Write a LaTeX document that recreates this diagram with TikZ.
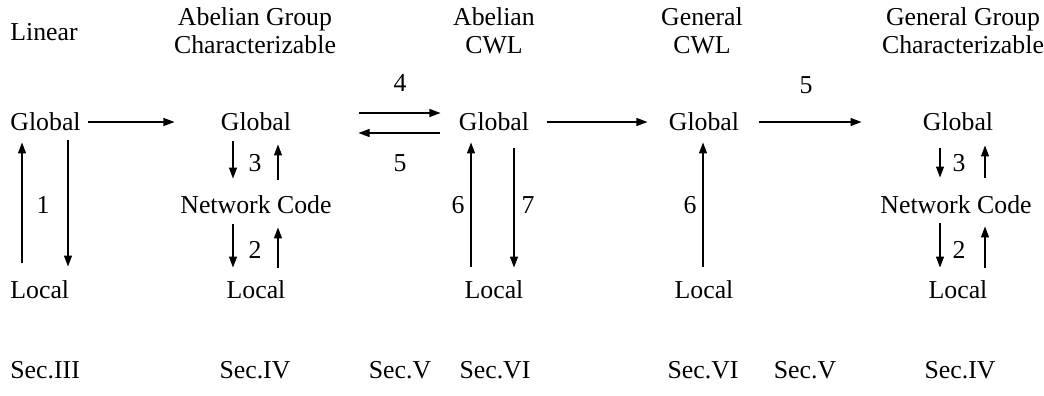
\documentclass[tikz,border=0pt]{standalone}
\usepackage{fontspec}
\setmainfont{Liberation Serif}
\usetikzlibrary{arrows.meta,calc}

\begin{document}
\begin{tikzpicture}[x=0.5pt,y=-0.5pt,
    every node/.style={inner sep=0pt,font=\fontsize{12.9}{14}\selectfont},
    arr/.style={-{Triangle[length=5.5pt,width=4pt]},line width=0.6pt}]
    \useasboundingbox (0,0) rectangle (1044,396);

    % Headers
    \node[anchor=west] (linear) at (10,32) {Linear};
    \node[align=center] (abgroup) at (255,31) {Abelian Group\\Characterizable};
    \node[align=center] (abcwl) at (494,31) {Abelian\\CWL};
    \node[align=center] (gencwl) at (702,31) {General\\CWL};
    \node[align=center] (gengroup) at (963,31) {General Group\\Characterizable};

    % Linear
    \node[anchor=west] (glin) at (10,122) {Global};
    \node[anchor=west] (llin) at (10,290) {Local};
    \draw[arr] ($(llin.north west)+(12,-18)$) -- ($(glin.south west)+(12,11)$);
    \draw[arr] ($(glin.south west)+(58,9)$) -- ($(llin.north west)+(58,-14)$);
    \node (one) at (43,205) {1};

    % Abelian group characterizable
    \node (gab) at (256,122) {Global};
    \node (nab) at (256,205) {Network Code};
    \node (lab) at (256,290) {Local};
    \draw[arr] ($(gab.south)+(-23,10)$) -- ($(nab.north)+(-23,-17)$);
    \draw[arr] ($(nab.north)+(22,-16)$) -- ($(gab.south)+(22,13)$);
    \draw[arr] ($(nab.south)+(-23,10)$) -- ($(lab.north)+(-23,-13)$);
    \draw[arr] ($(lab.north)+(22,-13)$) -- ($(nab.south)+(22,13)$);
    \node (three) at (255,163) {3};
    \node (two) at (255,250) {2};

    \draw[arr] ($(glin.east)+(7,0)$) -- ($(gab.west)+(-46,0)$);

    % Abelian CWL
    \node (gacwl) at (494,122) {Global};
    \node (lacwl) at (494,290) {Local};
    \draw[arr] ($(lacwl.north)+(-23,-14)$) -- ($(gacwl.south)+(-23,11)$);
    \draw[arr] ($(gacwl.south)+(20,17)$) -- ($(lacwl.north)+(20,-13)$);
    \node (six) at (458,205) {6};
    \node (seven) at (528,205) {7};

    \draw[arr] ($(gab.east)+(67,-9)$) -- ($(gacwl.west)+(-18,-9)$);
    \draw[arr] ($(gacwl.west)+(-18,11)$) -- ($(gab.east)+(67,11)$);
    \node (four) at (400,83) {4};
    \node (five) at (400,163) {5};

    % General CWL
    \node (ggcwl) at (704,122) {Global};
    \node (lgcwl) at (704,290) {Local};
    \draw[arr] ($(lgcwl.north)+(-1,-14)$) -- ($(ggcwl.south)+(-1,11)$);
    \node (sixb) at (690,205) {6};

    \draw[arr] ($(gacwl.east)+(17,0)$) -- ($(ggcwl.west)+(-21,0)$);

    % General group characterizable
    \node (ggg) at (958,122) {Global};
    \node (ngg) at (956,205) {Network Code};
    \node (lgg) at (958,290) {Local};
    \draw[arr] ($(ggg.south)+(-18,17)$) -- ($(ngg.north)+(-16,-18)$);
    \draw[arr] ($(ngg.north)+(29,-18)$) -- ($(ggg.south)+(27,14)$);
    \draw[arr] ($(ngg.south)+(-16,9)$) -- ($(lgg.north)+(-18,-13)$);
    \draw[arr] ($(lgg.north)+(27,-13)$) -- ($(ngg.south)+(29,12)$);
    \node (threeb) at (959,163) {3};
    \node (twob) at (959,250) {2};

    \draw[arr] ($(ggcwl.east)+(19,0)$) -- ($(ggg.west)+(-61,0)$);
    \node (fiveb) at (806,85) {5};

    % Sections
    \node[anchor=west] (s3) at (10,370) {Sec.III};
    \node (s4) at (255,370) {Sec.IV};
    \node (s5) at (400,370) {Sec.V};
    \node (s6) at (495,370) {Sec.VI};
    \node (s6b) at (703,370) {Sec.VI};
    \node (s5b) at (805,370) {Sec.V};
    \node (s4b) at (960,370) {Sec.IV};
\end{tikzpicture}
\end{document}
